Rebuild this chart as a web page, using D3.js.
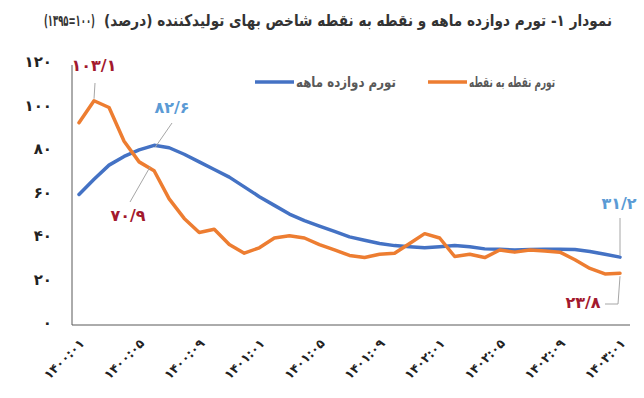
<!DOCTYPE html>
<html>
<head>
<meta charset="utf-8">
<script src="https://cdn.jsdelivr.net/npm/d3@7"></script>
<style>
  body { margin: 0; background: #fff; }
  text { font-family: "DejaVu Sans", sans-serif; }
</style>
</head>
<body>
<svg id="chart" width="644" height="398"></svg>
<script>
// months 1400:01 .. 1403:01
var months = [
  "۱۴۰۰:۰۱","۱۴۰۰:۰۲","۱۴۰۰:۰۳","۱۴۰۰:۰۴","۱۴۰۰:۰۵","۱۴۰۰:۰۶","۱۴۰۰:۰۷","۱۴۰۰:۰۸","۱۴۰۰:۰۹","۱۴۰۰:۱۰","۱۴۰۰:۱۱","۱۴۰۰:۱۲",
  "۱۴۰۱:۰۱","۱۴۰۱:۰۲","۱۴۰۱:۰۳","۱۴۰۱:۰۴","۱۴۰۱:۰۵","۱۴۰۱:۰۶","۱۴۰۱:۰۷","۱۴۰۱:۰۸","۱۴۰۱:۰۹","۱۴۰۱:۱۰","۱۴۰۱:۱۱","۱۴۰۱:۱۲",
  "۱۴۰۲:۰۱","۱۴۰۲:۰۲","۱۴۰۲:۰۳","۱۴۰۲:۰۴","۱۴۰۲:۰۵","۱۴۰۲:۰۶","۱۴۰۲:۰۷","۱۴۰۲:۰۸","۱۴۰۲:۰۹","۱۴۰۲:۱۰","۱۴۰۲:۱۱","۱۴۰۲:۱۲",
  "۱۴۰۳:۰۱"
];

// twelve-month inflation (blue)
var tavarromDavazdah = [60, 67, 73.5, 77.5, 80.5, 82.6, 81.5, 78.5, 75, 71.5, 68, 63.5,
  59, 55, 51, 48, 45.5, 43, 40.5, 39, 37.5, 36.5, 36, 35.5,
  36, 36.5, 36, 35, 34.8, 34.5, 34.7, 34.8, 34.8, 34.7, 33.8, 32.5,
  31.2];

// point-to-point inflation (orange)
var tavarromNoghte = [93, 103.1, 100, 84.5, 75, 70.9, 58, 49, 42.5, 44, 37, 33,
  35.5, 40, 41, 40, 37, 34.5, 32, 31, 32.5, 33, 37.5, 42,
  40, 31.5, 32.5, 31, 34.5, 33.5, 34.5, 34, 33.5, 30, 26, 23.5,
  23.8];

var yTicks = [0, 20, 40, 60, 80, 100, 120];
var seriesNames = ["تورم دوازده ماهه", "تورم نقطه به نقطه"];

var faDigits = "۰۱۲۳۴۵۶۷۸۹";
function fa(v) {
  return String(v).replace(/\d/g, function(c) { return faDigits[+c]; }).replace(".", "/");
}

// squeeze a text horizontally so it fits a given width (DejaVu runs wide)
function fitText(g, textSel, x0, y0, w) {
  var natural = textSel.node().getComputedTextLength();
  var k = Math.min(1, w / natural);
  g.attr("transform", "translate(" + x0 + "," + y0 + ") scale(" + k + ",1)");
}

var svg = d3.select("#chart");

var x = d3.scaleLinear()
    .domain([0, months.length - 1])
    .range([79, 620]);

var y = d3.scaleLinear()
    .domain([0, 120])
    .range([325, 64]);

var blue = "#4472c4", orange = "#ed7d31";
var darkRed = "#a3192e", lightBlue = "#5b9bd5";

/*
 * TITLE
 */
var tg1 = svg.append("g");
var t1 = tg1.append("text")
    .attr("dy", "0.35em")
    .attr("text-anchor", "end")
    .attr("font-size", 16)
    .attr("font-weight", "bold")
    .attr("fill", "#333")
    .text("نمودار ۱- تورم دوازده ماهه و نقطه به نقطه شاخص بهای تولیدکننده (درصد)");
fitText(tg1, t1, 612, 20, 508);

var tg2 = svg.append("g");
var t2 = tg2.append("text")
    .attr("dy", "0.35em")
    .attr("text-anchor", "start")
    .attr("font-size", 16)
    .attr("font-weight", "bold")
    .attr("fill", "#333")
    .text("(۱۳۹۵=۱۰۰)");
fitText(tg2, t2, 44, 20, 51);

/*
 * AXES
 */
svg.append("line")
    .attr("x1", 72).attr("x2", 72)
    .attr("y1", 65).attr("y2", y(0))
    .attr("stroke", "#595959").attr("stroke-width", 1);

svg.append("line")
    .attr("x1", 72).attr("x2", 630)
    .attr("y1", y(0)).attr("y2", y(0))
    .attr("stroke", "#595959").attr("stroke-width", 1);

svg.append("g")
  .selectAll("text")
  .data(yTicks)
  .enter().append("text")
    .attr("x", 52)
    .attr("y", d => y(d) - 2)
    .attr("dy", "0.35em")
    .attr("text-anchor", "end")
    .attr("font-size", 15)
    .attr("font-weight", "bold")
    .attr("fill", "#222")
    .text(d => fa(d));

var tickIdx = d3.range(0, months.length, 4);

svg.append("g")
  .selectAll("text")
  .data(tickIdx)
  .enter().append("text")
    .attr("transform", d => "translate(" + (x(d) + 3) + ",341) rotate(-45)")
    .attr("text-anchor", "end")
    .attr("dy", "0.35em")
    .attr("font-size", 12.5)
    .attr("font-weight", "bold")
    .attr("fill", "#222")
    .text(d => months[d]);

/*
 * LINES
 */
var line = d3.line()
    .x((d, i) => x(i))
    .y(d => y(d));

svg.append("path")
    .datum(tavarromDavazdah)
    .attr("d", line)
    .attr("fill", "none")
    .attr("stroke", blue)
    .attr("stroke-width", 3.5)
    .attr("stroke-linejoin", "round")
    .attr("stroke-linecap", "round");

svg.append("path")
    .datum(tavarromNoghte)
    .attr("d", line)
    .attr("fill", "none")
    .attr("stroke", orange)
    .attr("stroke-width", 3.5)
    .attr("stroke-linejoin", "round")
    .attr("stroke-linecap", "round");

/*
 * LEGEND
 */
var legend = [
  {name: seriesNames[0], color: blue, x0: 255, w: 100},
  {name: seriesNames[1], color: orange, x0: 428, w: 86}
];

legend.forEach(function(d) {
  svg.append("line")
      .attr("x1", d.x0).attr("x2", d.x0 + 39)
      .attr("y1", 82).attr("y2", 82)
      .attr("stroke", d.color)
      .attr("stroke-width", 3.5);
  var g = svg.append("g");
  var t = g.append("text")
      .attr("dy", "0.35em")
      .attr("text-anchor", "start")
      .attr("font-size", 14)
      .attr("font-weight", "bold")
      .attr("fill", "#595959")
      .text(d.name);
  fitText(g, t, d.x0 + 41, 82, d.w);
});

/*
 * ANNOTATIONS
 */
var notes = [
  {v: tavarromNoghte[1], color: darkRed, lx: 94, ly: 65, pts: [[95, 83], [x(1), y(tavarromNoghte[1]) - 2]]},
  {v: tavarromDavazdah[5], color: lightBlue, lx: 172, ly: 107, pts: [[172, 123], [x(5) + 1, y(tavarromDavazdah[5]) + 2]]},
  {v: tavarromNoghte[5], color: darkRed, lx: 128, ly: 215, pts: [[130, 202], [x(5) - 4, y(tavarromNoghte[5]) - 4]]},
  {v: tavarromDavazdah[36], color: lightBlue, lx: 619, ly: 203, pts: [[620, 218], [x(36), y(tavarromDavazdah[36]) - 2]]},
  {v: tavarromNoghte[36], color: darkRed, lx: 583, ly: 302, pts: [[x(36), y(tavarromNoghte[36]) + 3], [618, 304], [605, 304]]}
];

var ng = svg.append("g").selectAll("g").data(notes).enter().append("g");
ng.append("path")
    .attr("d", d => d3.line()(d.pts))
    .attr("fill", "none")
    .attr("stroke", "#a6a6a6")
    .attr("stroke-width", 1);
ng.append("text")
    .attr("x", d => d.lx)
    .attr("y", d => d.ly)
    .attr("dy", "0.35em")
    .attr("text-anchor", "middle")
    .attr("font-size", 16)
    .attr("font-weight", "bold")
    .attr("fill", d => d.color)
    .text(d => fa(d.v));
</script>
</body>
</html>
